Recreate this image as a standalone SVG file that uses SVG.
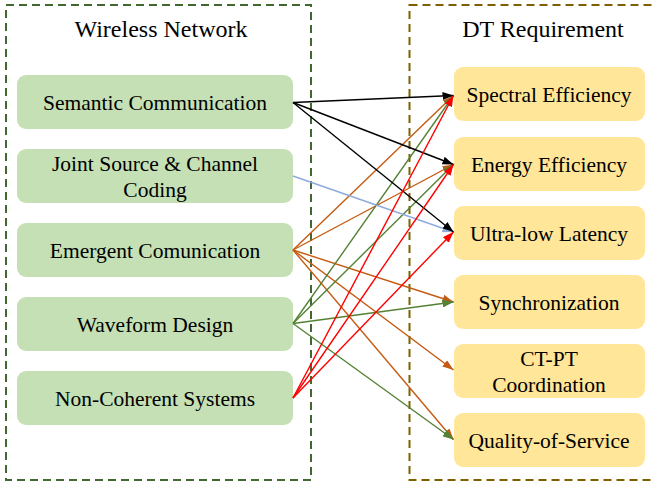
<svg xmlns="http://www.w3.org/2000/svg" width="654" height="485" viewBox="0 0 654 485">
<style>
text{font-family:"Liberation Serif","Times New Roman",serif;fill:#000;text-anchor:middle}
.title{font-size:24px}
.lbl{font-size:21.5px}
.gn{fill:#C5E0B4}
.yn{fill:#FFE699}
.c{fill:none;stroke-width:1.4}
</style>
<defs>
<marker id="ak" markerUnits="userSpaceOnUse" markerWidth="11" markerHeight="8" refX="11" refY="4" orient="auto"><path d="M0,0 L11,4 L0,8 z" fill="#000"/></marker>
<marker id="ab" markerUnits="userSpaceOnUse" markerWidth="11" markerHeight="8" refX="11" refY="4" orient="auto"><path d="M0,0 L11,4 L0,8 z" fill="#8FAADC"/></marker>
<marker id="ao" markerUnits="userSpaceOnUse" markerWidth="11" markerHeight="8" refX="11" refY="4" orient="auto"><path d="M0,0 L11,4 L0,8 z" fill="#C55A11"/></marker>
<marker id="ag" markerUnits="userSpaceOnUse" markerWidth="11" markerHeight="8" refX="11" refY="4" orient="auto"><path d="M0,0 L11,4 L0,8 z" fill="#548235"/></marker>
<marker id="ar" markerUnits="userSpaceOnUse" markerWidth="11" markerHeight="8" refX="11" refY="4" orient="auto"><path d="M0,0 L11,4 L0,8 z" fill="#FF0000"/></marker>
</defs>
<rect width="654" height="485" fill="#fff"/>
<g id="wireless-network">
<rect x="6" y="5" width="305" height="475" fill="none" stroke="#41692F" stroke-width="2" stroke-dasharray="8,5"/>
<text class="title" x="161" y="37">Wireless Network</text>
</g>
<g id="dt-requirement">
<rect x="409.5" y="5" width="260" height="475" fill="none" stroke="#7F6000" stroke-width="2" stroke-dasharray="8,5"/>
<text class="title" x="543" y="37">DT Requirement</text>
</g>
<g id="n-semantic"><rect class="gn" x="17" y="75" width="276" height="54" rx="9"/><text class="lbl" x="155" y="110">Semantic Communication</text></g>
<g id="n-jscc"><rect class="gn" x="17" y="149" width="276" height="54" rx="9"/><text class="lbl" x="155" y="170.5">Joint Source &amp; Channel</text><text class="lbl" x="155" y="197">Coding</text></g>
<g id="n-emergent"><rect class="gn" x="17" y="223" width="276" height="54" rx="9"/><text class="lbl" x="155" y="258">Emergent Comunication</text></g>
<g id="n-waveform"><rect class="gn" x="17" y="297" width="276" height="54" rx="9"/><text class="lbl" x="155" y="332">Waveform Design</text></g>
<g id="n-noncoherent"><rect class="gn" x="17" y="371" width="276" height="54" rx="9"/><text class="lbl" x="155" y="406">Non-Coherent Systems</text></g>
<g id="r-spectral"><rect class="yn" x="454" y="67" width="191" height="54" rx="9"/><text class="lbl" x="549" y="102">Spectral Efficiency</text></g>
<g id="r-energy"><rect class="yn" x="454" y="137" width="191" height="54" rx="9"/><text class="lbl" x="549" y="171.5">Energy Efficiency</text></g>
<g id="r-latency"><rect class="yn" x="454" y="206" width="191" height="54" rx="9"/><text class="lbl" x="549" y="240.5">Ultra-low Latency</text></g>
<g id="r-sync"><rect class="yn" x="454" y="275" width="191" height="54" rx="9"/><text class="lbl" x="549" y="309.5">Synchronization</text></g>
<g id="r-ctpt"><rect class="yn" x="454" y="344" width="191" height="54" rx="9"/><text class="lbl" x="549" y="366">CT-PT</text><text class="lbl" x="549" y="392">Coordination</text></g>
<g id="r-qos"><rect class="yn" x="454" y="413" width="191" height="54" rx="9"/><text class="lbl" x="549" y="447.5">Quality-of-Service</text></g>
<g id="connectors">
<line class="c" stroke="#C55A11" marker-end="url(#ao)" x1="293" y1="250" x2="453.5" y2="95.5"/>
<line class="c" stroke="#C55A11" marker-end="url(#ao)" x1="293" y1="250" x2="453.5" y2="164.5"/>
<line class="c" stroke="#C55A11" marker-end="url(#ao)" x1="293" y1="250" x2="453.5" y2="302"/>
<line class="c" stroke="#C55A11" marker-end="url(#ao)" x1="293" y1="250" x2="453.5" y2="370"/>
<line class="c" stroke="#C55A11" marker-end="url(#ao)" x1="293" y1="250" x2="453.5" y2="439.5"/>
<line class="c" stroke="#548235" marker-end="url(#ag)" x1="293" y1="323.5" x2="453.5" y2="95.5"/>
<line class="c" stroke="#548235" marker-end="url(#ag)" x1="293" y1="323.5" x2="453.5" y2="164.5"/>
<line class="c" stroke="#548235" marker-end="url(#ag)" x1="293" y1="323.5" x2="453.5" y2="302"/>
<line class="c" stroke="#548235" marker-end="url(#ag)" x1="293" y1="323.5" x2="453.5" y2="439.5"/>
<line class="c" stroke="#8FAADC" marker-end="url(#ab)" x1="293" y1="176" x2="453.5" y2="232"/>
<line class="c" stroke="#000" marker-end="url(#ak)" x1="293" y1="102.5" x2="453.5" y2="95.5"/>
<line class="c" stroke="#000" marker-end="url(#ak)" x1="293" y1="102.5" x2="453.5" y2="164.5"/>
<line class="c" stroke="#000" marker-end="url(#ak)" x1="293" y1="102.5" x2="453.5" y2="232"/>
<line class="c" stroke="#FF0000" marker-end="url(#ar)" x1="293" y1="398" x2="453.5" y2="95.5"/>
<line class="c" stroke="#FF0000" marker-end="url(#ar)" x1="293" y1="398" x2="453.5" y2="164.5"/>
<line class="c" stroke="#FF0000" marker-end="url(#ar)" x1="293" y1="398" x2="453.5" y2="232"/>
</g>
</svg>
